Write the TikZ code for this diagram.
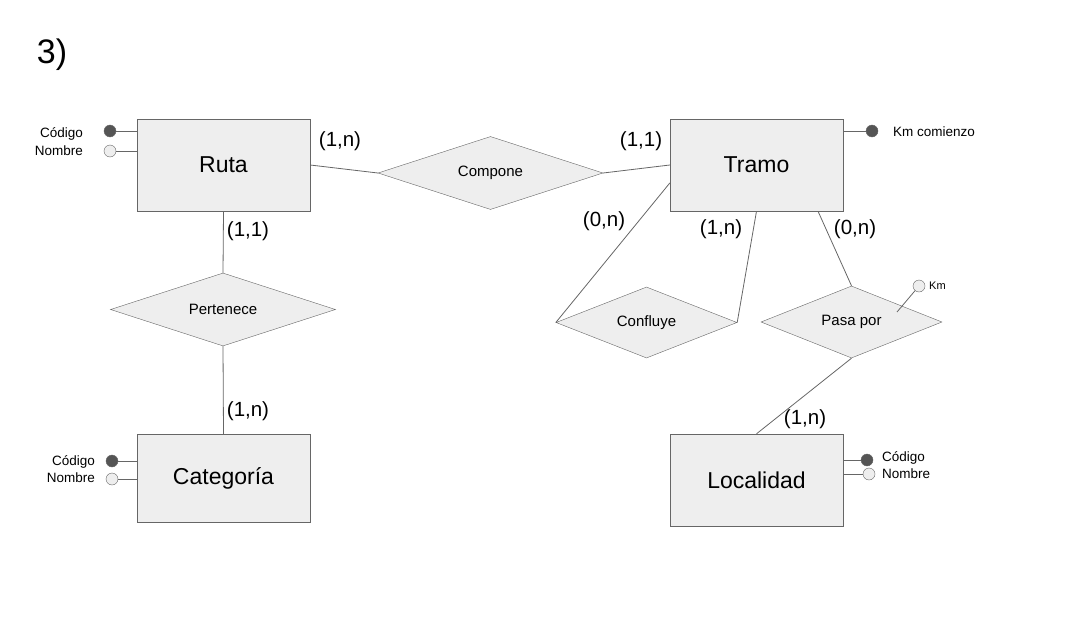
\documentclass[tikz,border=0pt]{standalone}
\usepackage{fontspec}
\setmainfont{Liberation Sans}
\usepackage{tikz}
\usetikzlibrary{shapes.geometric}
\definecolor{boxfill}{HTML}{EEEEEE}
\definecolor{linegray}{HTML}{666666}
\definecolor{dotgray}{HTML}{555555}
\begin{document}
\begin{tikzpicture}[x=1pt, y=-1pt,
		entity/.style={draw=linegray, fill=boxfill, minimum width=173pt, minimum height=92pt, font=\fontsize{23}{27}\selectfont},
		relation/.style={draw=linegray, fill=boxfill, shape=diamond, aspect=3, inner sep=0pt, minimum width=225pt, minimum height=73pt, font=\fontsize{15}{18}\selectfont},
		keyattr/.style={circle, draw=linegray, fill=dotgray, inner sep=0pt, minimum size=12pt},
		attr/.style={circle, draw=linegray, fill=boxfill, inner sep=0pt, minimum size=12pt},
		attrtext/.style={font=\fontsize{13.5}{15}\selectfont, inner sep=0pt},
		card/.style={font=\fontsize{20.5}{24}\selectfont, inner sep=0pt},
		conn/.style={draw=linegray, line width=0.8pt}]
		\useasboundingbox (0,0) rectangle (1079,618);
		\node[font=\fontsize{34}{38}\selectfont] (title) at (52,55) {3)};

		% Entidades
		\node[entity] (ruta) at (223.5,165) {Ruta};
		\node[entity] (tramo) at (756.5,165) {Tramo};
		\node[entity, minimum height=88pt] (categoria) at (223.5,478) {Categoría};
		\node[entity] (localidad) at (756.5,480) {Localidad};

		% Relaciones
		\node[relation] (compone) at (490.5,173) {Compone};
		\node[relation] (pertenece) at (223,309.5) {Pertenece};
		\node[relation, minimum width=181pt, minimum height=71pt] (confluye) at (646.5,322.5) {Confluye};
		\node[relation, minimum width=181pt, minimum height=72pt] (pasapor) at (851.5,322) {Pasa por};

		% Conectores
		\draw[conn] (ruta.east) -- (compone.west);
		\draw[conn] (compone.east) -- (tramo.west);
		\draw[conn] (ruta.south) -- (pertenece.north);
		\draw[conn] (pertenece.south) -- (categoria.north);
		\draw[conn] ([yshift=-18pt]tramo.west) -- (confluye.west);
		\draw[conn] (tramo.south) -- (confluye.east);
		\draw[conn] ([xshift=61.5pt]tramo.south) -- (pasapor.north);
		\draw[conn] (pasapor.south) -- (localidad.north);

		% Cardinalidades
		\node[card] (c1) at (340,141) {(1,n)};
		\node[card] (c2) at (641,141) {(1,1)};
		\node[card] (c3) at (248,231) {(1,1)};
		\node[card] (c4) at (248,411) {(1,n)};
		\node[card] (c5) at (604,221) {(0,n)};
		\node[card] (c6) at (721,229) {(1,n)};
		\node[card] (c7) at (855,229) {(0,n)};
		\node[card] (c8) at (805,419) {(1,n)};

		% Atributos de Ruta
		\node[keyattr] (rutacod) at (110,131) {};
		\node[attr] (rutanom) at (110,151) {};
		\draw[conn] (rutacod) -- (rutacod -| ruta.west);
		\draw[conn] (rutanom) -- (rutanom -| ruta.west);
		\node[attrtext, anchor=east] (rutacodt) at (83,134) {Código};
		\node[attrtext, anchor=east] (rutanomt) at (83,151) {Nombre};

		% Atributo de Tramo
		\node[keyattr] (tramokm) at (872,131) {};
		\draw[conn] (tramokm) -- (tramokm -| tramo.east);
		\node[attrtext, anchor=west] (tramokmt) at (893,132) {Km comienzo};

		% Atributos de Categoria
		\node[keyattr] (catcod) at (112,461) {};
		\node[attr] (catnom) at (112,479) {};
		\draw[conn] (catcod) -- (catcod -| categoria.west);
		\draw[conn] (catnom) -- (catnom -| categoria.west);
		\node[attrtext, anchor=east] (catcodt) at (95,462) {Código};
		\node[attrtext, anchor=east] (catnomt) at (95,478) {Nombre};

		% Atributos de Localidad
		\node[keyattr] (loccod) at (867,460) {};
		\node[attr] (locnom) at (869,474) {};
		\draw[conn] (loccod) -- (loccod -| localidad.east);
		\draw[conn] (locnom) -- (locnom -| localidad.east);
		\node[attrtext, anchor=west] (loccodt) at (882,458) {Código};
		\node[attrtext, anchor=west] (locnomt) at (882,474) {Nombre};

		% Atributo de Pasa por
		\coordinate (kmfoot) at (897,312);
		\node[attr] (pasakm) at (919,286) {};
		\draw[conn] (kmfoot) -- (pasakm);
		\node[attrtext, anchor=west, font=\fontsize{11}{13}\selectfont] (pasakmt) at (929,286) {Km};
	\end{tikzpicture}
\end{document}
